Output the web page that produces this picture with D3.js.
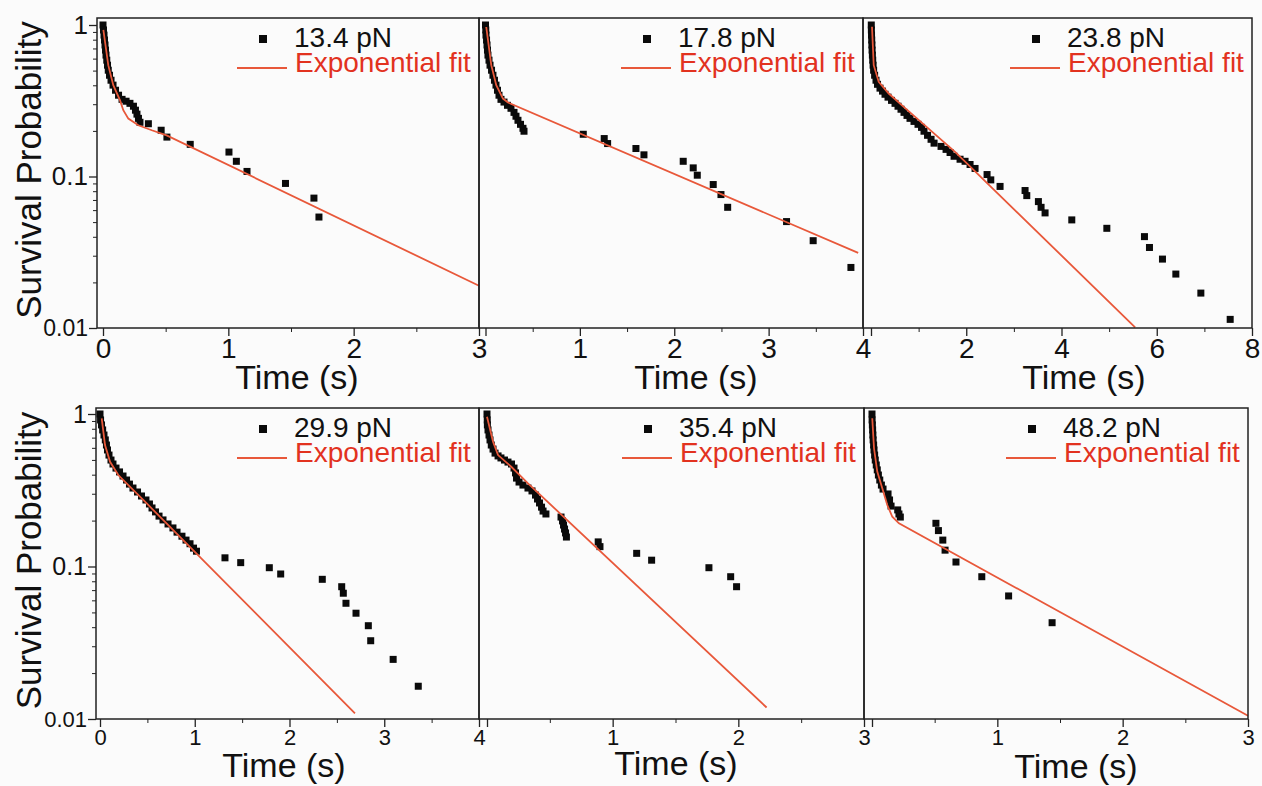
<!DOCTYPE html>
<html>
<head>
<meta charset="utf-8">
<script src="https://cdn.jsdelivr.net/npm/d3@7"></script>
<style>
  body { margin: 0; background: #fbfbfb; }
  svg { display: block; font-family: "Liberation Sans", Arial, sans-serif; }
</style>
</head>
<body>
<svg id="chart"></svg>
<script>
// forces and axis ticks
const forces = ['13.4 pN', '17.8 pN', '23.8 pN', '29.9 pN', '35.4 pN', '48.2 pN']
const xMax = [3, 4, 8, 4, 3, 3]
const xMajorTicks = [[0, 1, 2, 3], [0, 1, 2, 3, 4], [0, 2, 4, 6, 8], [0, 1, 2, 3, 4], [0, 1, 2, 3], [0, 1, 2, 3]]
const xMinorTicks = [[0.5, 1.5, 2.5], [0.5, 1.5, 2.5, 3.5], [1, 3, 5, 7], [0.5, 1.5, 2.5, 3.5], [0.5, 1.5, 2.5], [0.5, 1.5, 2.5]]
const yMajorTicks = [0.01, 0.1, 1]
const yMinorTicks = [0.02, 0.03, 0.04, 0.05, 0.06, 0.07, 0.08, 0.09, 0.2, 0.3, 0.4, 0.5, 0.6, 0.7, 0.8, 0.9]

// survival data [time s, probability]
const surv134 = [[0, 1.0], [0.004, 0.927], [0.008, 0.858], [0.012, 0.796], [0.016, 0.738], [0.02, 0.683], [0.024, 0.633], [0.03, 0.586], [0.036, 0.543], [0.042, 0.503], [0.052, 0.466], [0.064, 0.432], [0.08, 0.401], [0.1, 0.371], [0.124, 0.344], [0.152, 0.323], [0.184, 0.314], [0.215, 0.304], [0.243, 0.291], [0.259, 0.274], [0.271, 0.258], [0.283, 0.242], [0.295, 0.228], [0.362, 0.223], [0.464, 0.202], [0.51, 0.182], [0.696, 0.163], [1.005, 0.145], [1.064, 0.126], [1.149, 0.108], [1.456, 0.09], [1.683, 0.072], [1.723, 0.054]]
const fit134 = [[0.003, 0.93], [0.042, 0.543], [0.082, 0.401], [0.136, 0.318], [0.162, 0.274], [0.202, 0.241], [0.282, 0.218], [0.389, 0.202], [0.508, 0.187], [3.0, 0.019]]

const surv178 = [[0, 1.0], [0.003, 0.927], [0.005, 0.858], [0.011, 0.796], [0.016, 0.738], [0.021, 0.683], [0.026, 0.633], [0.037, 0.586], [0.048, 0.543], [0.064, 0.503], [0.079, 0.466], [0.095, 0.432], [0.111, 0.401], [0.127, 0.371], [0.143, 0.344], [0.164, 0.323], [0.196, 0.31], [0.233, 0.295], [0.27, 0.282], [0.302, 0.265], [0.323, 0.25], [0.344, 0.235], [0.371, 0.221], [0.397, 0.208], [0.408, 0.199], [1.036, 0.19], [1.258, 0.178], [1.294, 0.165], [1.594, 0.153], [1.679, 0.139], [2.095, 0.126], [2.201, 0.114], [2.244, 0.102], [2.413, 0.0885], [2.495, 0.076], [2.566, 0.0626], [3.19, 0.0504], [3.472, 0.0377], [3.872, 0.0251]]
const fit178 = [[0.008, 0.97], [0.061, 0.543], [0.114, 0.401], [0.185, 0.327], [0.238, 0.308], [3.949, 0.0313]]

const surv238 = [[0.006, 1.0], [0.008, 0.927], [0.011, 0.858], [0.015, 0.796], [0.019, 0.738], [0.023, 0.683], [0.029, 0.633], [0.036, 0.586], [0.044, 0.543], [0.055, 0.503], [0.076, 0.466], [0.105, 0.432], [0.137, 0.406], [0.189, 0.383], [0.242, 0.366], [0.294, 0.349], [0.357, 0.334], [0.431, 0.318], [0.504, 0.304], [0.567, 0.291], [0.63, 0.278], [0.693, 0.265], [0.756, 0.253], [0.819, 0.242], [0.903, 0.231], [0.987, 0.221], [1.061, 0.211], [1.113, 0.199], [1.187, 0.187], [1.261, 0.176], [1.324, 0.166], [1.471, 0.158], [1.576, 0.151], [1.66, 0.144], [1.744, 0.136], [1.87, 0.13], [1.975, 0.126], [2.08, 0.12], [2.185, 0.113], [2.437, 0.103], [2.515, 0.095], [2.71, 0.086], [3.235, 0.0808], [3.271, 0.0748], [3.515, 0.0683], [3.571, 0.0626], [3.655, 0.0575], [4.216, 0.0517], [4.952, 0.0455], [5.742, 0.0401], [5.847, 0.034], [6.12, 0.0285], [6.401, 0.0227], [6.926, 0.017], [7.542, 0.0114]]
const fit238 = [[0.021, 0.975], [0.057, 0.543], [0.162, 0.421], [0.372, 0.353], [0.651, 0.295], [1.771, 0.145], [5.546, 0.0101]]

const surv299 = [[0, 1.0], [0.006, 0.914], [0.016, 0.848], [0.028, 0.786], [0.042, 0.728], [0.056, 0.676], [0.068, 0.626], [0.079, 0.581], [0.095, 0.538], [0.116, 0.499], [0.137, 0.47], [0.169, 0.442], [0.206, 0.417], [0.243, 0.392], [0.28, 0.369], [0.311, 0.347], [0.348, 0.327], [0.396, 0.308], [0.438, 0.29], [0.485, 0.273], [0.522, 0.257], [0.549, 0.242], [0.586, 0.228], [0.623, 0.214], [0.665, 0.202], [0.718, 0.19], [0.77, 0.179], [0.813, 0.168], [0.865, 0.158], [0.908, 0.149], [0.95, 0.141], [0.987, 0.132], [1.018, 0.126], [1.319, 0.114], [1.485, 0.106], [1.787, 0.0982], [1.907, 0.0893], [2.346, 0.0824], [2.551, 0.0737], [2.568, 0.0668], [2.596, 0.0574], [2.702, 0.0494], [2.832, 0.0409], [2.857, 0.0326], [3.094, 0.0246], [3.359, 0.0164]]
const fit299 = [[0.018, 0.937], [0.053, 0.626], [0.106, 0.486], [0.193, 0.398], [0.299, 0.342], [0.475, 0.266], [2.691, 0.0109]]

const surv354 = [[0, 1.0], [0.002, 0.914], [0.003, 0.848], [0.008, 0.786], [0.016, 0.728], [0.024, 0.676], [0.034, 0.626], [0.048, 0.589], [0.064, 0.554], [0.088, 0.531], [0.111, 0.515], [0.139, 0.499], [0.167, 0.484], [0.195, 0.47], [0.215, 0.442], [0.227, 0.411], [0.235, 0.38], [0.255, 0.358], [0.286, 0.342], [0.326, 0.327], [0.358, 0.313], [0.386, 0.294], [0.402, 0.277], [0.418, 0.261], [0.434, 0.245], [0.446, 0.231], [0.469, 0.221], [0.589, 0.211], [0.601, 0.199], [0.609, 0.187], [0.617, 0.176], [0.625, 0.166], [0.632, 0.156], [0.885, 0.145], [0.899, 0.135], [1.191, 0.122], [1.31, 0.11], [1.766, 0.0982], [1.939, 0.0857], [1.986, 0.0737]]
const fit354 = [[0.0, 0.96], [0.048, 0.658], [0.088, 0.538], [0.193, 0.451], [0.326, 0.351], [2.225, 0.0119]]

const surv482 = [[0, 1.0], [0.001, 0.914], [0.003, 0.848], [0.005, 0.786], [0.007, 0.728], [0.009, 0.676], [0.013, 0.626], [0.016, 0.581], [0.021, 0.538], [0.026, 0.499], [0.034, 0.463], [0.042, 0.43], [0.051, 0.398], [0.062, 0.369], [0.075, 0.342], [0.088, 0.322], [0.128, 0.299], [0.14, 0.273], [0.152, 0.249], [0.205, 0.235], [0.215, 0.221], [0.226, 0.211], [0.51, 0.192], [0.53, 0.172], [0.565, 0.149], [0.583, 0.128], [0.67, 0.107], [0.876, 0.0857], [1.09, 0.0641], [1.437, 0.0428]]
const fit482 = [[0.002, 0.937], [0.016, 0.596], [0.042, 0.419], [0.082, 0.326], [0.122, 0.253], [0.162, 0.212], [0.215, 0.192], [3.0, 0.0105]]

const survData = [surv134, surv178, surv238, surv299, surv354, surv482]
const fitData = [fit134, fit178, fit238, fit299, fit354, fit482]

// panel placement on the page (px)
const layout = [
    { left: 97, right: 479, zero: 103, top: 18, bottom: 328, yOne: 25, titleX: 297, titleY: 389, tickFont: 28, yFont: 26, showY: true, showZero: true },
    { left: 479, right: 863, zero: 485.5, top: 18, bottom: 328, yOne: 25, titleX: 696, titleY: 389, tickFont: 28, yFont: 26, showY: false, showZero: false },
    { left: 863, right: 1252, zero: 871, top: 18, bottom: 328, yOne: 25, titleX: 1084, titleY: 389, tickFont: 28, yFont: 26, showY: false, showZero: false },
    { left: 96, right: 479, zero: 100, top: 408, bottom: 719, yOne: 414, titleX: 284, titleY: 777, tickFont: 22, yFont: 25, showY: true, showZero: true },
    { left: 479, right: 864, zero: 487, top: 408, bottom: 719, yOne: 414, titleX: 676, titleY: 775, tickFont: 22, yFont: 25, showY: false, showZero: false },
    { left: 864, right: 1248, zero: 872, top: 408, bottom: 719, yOne: 414, titleX: 1076, titleY: 778, tickFont: 22, yFont: 25, showY: false, showZero: false }
]

const fitColor = '#e8583a'
const fitText = '#e2321f'

class SurvivalPanel {

    constructor(_config, _points, _fit) {
        this.config = _config
        this.points = _points
        this.fit = _fit
        this.initVis()
    }

    initVis() {
        let vis = this
        let c = vis.config

        vis.chart = d3.select(c.parentElement).append('g')

        vis.xScale = d3.scaleLinear()
            .domain([0, c.xMax])
            .range([c.zero, c.right])

        vis.yScale = d3.scaleLog()
            .domain([0.01, 1])
            .range([c.bottom, c.yOne])

        vis.xAxis = d3.axisBottom(vis.xScale)
            .tickValues(c.majorTicks)
            .tickSize(8)
            .tickSizeOuter(0)
            .tickPadding(2)
            .tickFormat(d => (d === 0 && !c.showZero) ? '' : d)

        vis.xMinor = d3.axisBottom(vis.xScale)
            .tickValues(c.minorTicks)
            .tickSize(4)
            .tickSizeOuter(0)
            .tickFormat('')

        vis.yAxis = d3.axisLeft(vis.yScale)
            .tickValues(yMajorTicks)
            .tickSize(8)
            .tickSizeOuter(0)
            .tickPadding(1)
            .tickFormat(d => String(d))

        vis.yMinor = d3.axisLeft(vis.yScale)
            .tickValues(yMinorTicks)
            .tickSize(4)
            .tickSizeOuter(0)
            .tickFormat('')

        vis.renderVis()
    }

    renderVis() {
        let vis = this
        let c = vis.config

        // points first, fit line on top
        vis.chart.selectAll('.dot')
            .data(vis.points)
            .join('rect')
                .attr('class', 'dot')
                .attr('x', d => vis.xScale(d[0]) - 3.5)
                .attr('y', d => vis.yScale(d[1]) - 3.5)
                .attr('width', 7)
                .attr('height', 7)
                .attr('fill', '#0a0a0a')

        let line = d3.line()
            .x(d => vis.xScale(d[0]))
            .y(d => vis.yScale(d[1]))

        vis.chart.append('path')
            .datum(vis.fit)
            .attr('d', line)
            .attr('fill', 'none')
            .attr('stroke', fitColor)
            .attr('stroke-width', 1.8)

        vis.chart.append('rect')
            .attr('x', c.left)
            .attr('y', c.top)
            .attr('width', c.right - c.left)
            .attr('height', c.bottom - c.top)
            .attr('fill', 'none')
            .attr('stroke', '#222')
            .attr('stroke-width', 1.5)

        let xg = vis.chart.append('g')
            .attr('transform', `translate(0, ${c.bottom})`)
            .attr('color', '#222')
            .call(vis.xAxis)
        xg.select('.domain').remove()
        xg.selectAll('line').attr('stroke-width', 1.3)
        xg.selectAll('text')
            .attr('font-size', c.tickFont)
            .attr('font-family', '"Liberation Sans", Arial, sans-serif')
            .attr('fill', '#111')

        let xm = vis.chart.append('g')
            .attr('transform', `translate(0, ${c.bottom})`)
            .attr('color', '#222')
            .call(vis.xMinor)
        xm.select('.domain').remove()

        if (c.showY) {
            let yg = vis.chart.append('g')
                .attr('transform', `translate(${c.left}, 0)`)
                .attr('color', '#222')
                .call(vis.yAxis)
            yg.select('.domain').remove()
            yg.selectAll('line').attr('stroke-width', 1.3)
            yg.selectAll('text')
                .attr('font-size', d => d === 0.01 ? c.yFont - 3 : c.yFont)
                .attr('font-family', '"Liberation Sans", Arial, sans-serif')
                .attr('fill', '#111')

            let ym = vis.chart.append('g')
                .attr('transform', `translate(${c.left}, 0)`)
                .attr('color', '#222')
                .call(vis.yMinor)
            ym.select('.domain').remove()

            vis.chart.append('text')
                .attr('transform', `translate(41, ${(c.top + c.bottom) / 2 - 3}) rotate(-90)`)
                .attr('text-anchor', 'middle')
                .attr('font-size', 35)
                .attr('fill', '#111')
                .text('Survival Probability')
        }

        vis.chart.append('text')
            .attr('x', c.titleX)
            .attr('y', c.titleY)
            .attr('text-anchor', 'middle')
            .attr('font-size', 34)
            .attr('fill', '#111')
            .text('Time (s)')

        // legend, anchored to the top right corner
        let lg = vis.chart.append('g')
            .attr('transform', `translate(${c.right}, ${c.top})`)

        lg.append('rect')
            .attr('x', -220)
            .attr('y', 17)
            .attr('width', 8)
            .attr('height', 8)
            .attr('fill', '#0a0a0a')

        lg.append('text')
            .attr('x', -185)
            .attr('y', 29)
            .attr('font-size', 28)
            .attr('fill', '#111')
            .text(c.label)

        lg.append('line')
            .attr('x1', -242)
            .attr('x2', -192)
            .attr('y1', 50)
            .attr('y2', 50)
            .attr('stroke', fitColor)
            .attr('stroke-width', 1.8)

        lg.append('text')
            .attr('x', -184)
            .attr('y', 54)
            .attr('font-size', 28)
            .attr('fill', fitText)
            .text('Exponential fit')
    }
}

d3.select('#chart')
    .attr('width', 1262)
    .attr('height', 786)
    .style('background', '#fbfbfb')

let panels = layout.map((l, i) => new SurvivalPanel({
    parentElement: '#chart',
    ...l,
    xMax: xMax[i],
    majorTicks: xMajorTicks[i],
    minorTicks: xMinorTicks[i],
    label: forces[i]
}, survData[i], fitData[i]))
</script>
</body>
</html>
